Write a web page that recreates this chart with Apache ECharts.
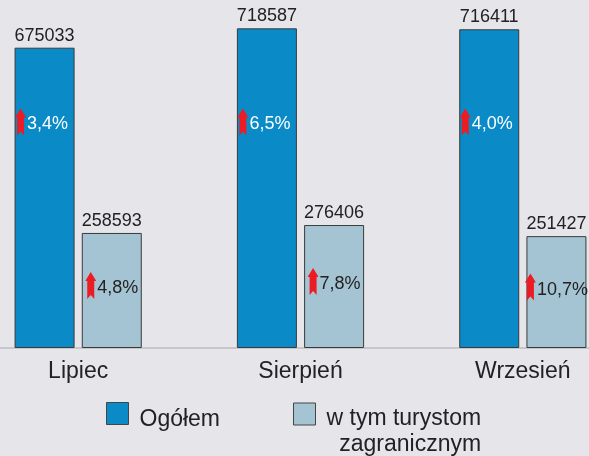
<!DOCTYPE html>
<html lang="pl">
<head>
<meta charset="utf-8">
<title>Ogółem / w tym turystom zagranicznym</title>
<script src="https://cdn.jsdelivr.net/npm/echarts@6/dist/echarts.min.js"></script>
<style>
  html, body { margin: 0; padding: 0; background: #e6e5ea; }
  #main { width: 589px; height: 456px; }
</style>
</head>
<body>
<div id="main"></div>
<script type="text/javascript">
  // dane
  var months = ['Lipiec', 'Sierpień', 'Wrzesień'];
  var totalValues = [675033, 718587, 716411];
  var foreignValues = [258593, 276406, 251427];
  var totalChange = ['3,4%', '6,5%', '4,0%'];
  var foreignChange = ['4,8%', '7,8%', '10,7%'];

  var font = '"Liberation Sans", Arial, sans-serif';
  // strzałka w górę (czerwona)
  var arrowImg = 'data:image/svg+xml;utf8,' + encodeURIComponent(
    '<svg xmlns="http://www.w3.org/2000/svg" width="11" height="27" viewBox="0 0 11 27">' +
    '<path d="M5.5 0 L11 9 L9 9 L9 27 L5.5 23 L2 27 L2 9 L0 9 Z" fill="#ec1c24"/></svg>');

  // poziom (w jednostkach osi) na którym stoją etykiety w niebieskich słupkach
  var arrowLevel = 508000;

  var myChart = echarts.init(document.getElementById('main'));

  var totalData = totalValues.map(function (v, i) {
    return {
      value: v,
      pct: totalChange[i],
      label: { position: ['50%', ((v - arrowLevel) / v * 100).toFixed(2) + '%'] }
    };
  });
  var foreignData = foreignValues.map(function (v, i) {
    return { value: v, pct: foreignChange[i] };
  });

  function pctLabel(color, offset) {
    return {
      show: true,
      align: 'center',
      verticalAlign: 'middle',
      offset: offset,
      formatter: function (p) { return '{a|}{t|' + p.data.pct + '}'; },
      rich: {
        a: { backgroundColor: { image: arrowImg }, width: 11, height: 27 },
        t: { color: color, fontSize: 18, fontFamily: font, padding: [5, 0, 0, 1] }
      }
    };
  }

  // pusty słupek na szczycie stosu, tylko do etykiety z wartością
  function topLabels(stack, values) {
    return {
      name: stack + '-label',
      type: 'bar',
      stack: stack,
      barWidth: 60,
      itemStyle: { color: 'transparent' },
      label: {
        show: true,
        position: 'top',
        distance: 3,
        color: '#222',
        fontSize: 18,
        fontFamily: font,
        formatter: function (p) { return values[p.dataIndex]; }
      },
      data: values.map(function () { return 0; })
    };
  }

  var option = {
    backgroundColor: '#e6e5ea',
    animation: false,
    grid: { left: -33, right: -45, top: 1, bottom: 108, outerBoundsMode: 'none' },
    legend: [
      {
        data: ['Ogółem'],
        left: 106, top: 402, padding: 0,
        selectedMode: false,
        icon: 'rect', itemWidth: 22, itemHeight: 22,
        itemStyle: { borderColor: '#444', borderWidth: 1 },
        formatter: '{n|Ogółem}',
        textStyle: {
          rich: { n: { fontSize: 23, fontFamily: font, color: '#222', padding: [12, 0, 0, 6] } }
        }
      },
      {
        data: ['w tym turystom zagranicznym'],
        left: 293, top: 383, padding: 0,
        selectedMode: false,
        icon: 'rect', itemWidth: 22, itemHeight: 22,
        itemStyle: { borderColor: '#444', borderWidth: 1 },
        formatter: '{s| }\n{l1|w tym turystom}\n{l2|zagranicznym}',
        textStyle: {
          rich: {
            s: { fontSize: 10, lineHeight: 36 },
            l1: { fontSize: 23, lineHeight: 26, fontFamily: font, color: '#222', padding: [0, 0, 0, 6] },
            l2: { fontSize: 23, lineHeight: 26, fontFamily: font, color: '#222', align: 'right' }
          }
        }
      }
    ],
    xAxis: {
      type: 'category',
      data: months,
      axisLine: { show: true, lineStyle: { color: '#c6c6cb', width: 2 } },
      axisTick: { show: false },
      axisLabel: { margin: 12, fontSize: 23, color: '#222', fontFamily: font }
    },
    yAxis: {
      type: 'value',
      min: 0,
      max: 780000,
      show: false,
      splitLine: { show: false }
    },
    series: [
      {
        name: 'Ogółem',
        type: 'bar',
        stack: 'total',
        barWidth: 60,
        barGap: '12%',
        itemStyle: { color: '#0a8bc7', borderColor: '#3a3a3a', borderWidth: 1 },
        label: pctLabel('#ffffff', [-3, 0]),
        data: totalData
      },
      {
        name: 'w tym turystom zagranicznym',
        type: 'bar',
        stack: 'foreign',
        barWidth: 60,
        barGap: '12%',
        itemStyle: { color: '#a5c4d3', borderColor: '#3a3a3a', borderWidth: 1 },
        label: Object.assign(pctLabel('#222222', [0, -5]), { position: ['50%', '50%'] }),
        data: foreignData
      },
      topLabels('total', totalValues),
      topLabels('foreign', foreignValues)
    ]
  };

  myChart.setOption(option);
</script>
</body>
</html>
